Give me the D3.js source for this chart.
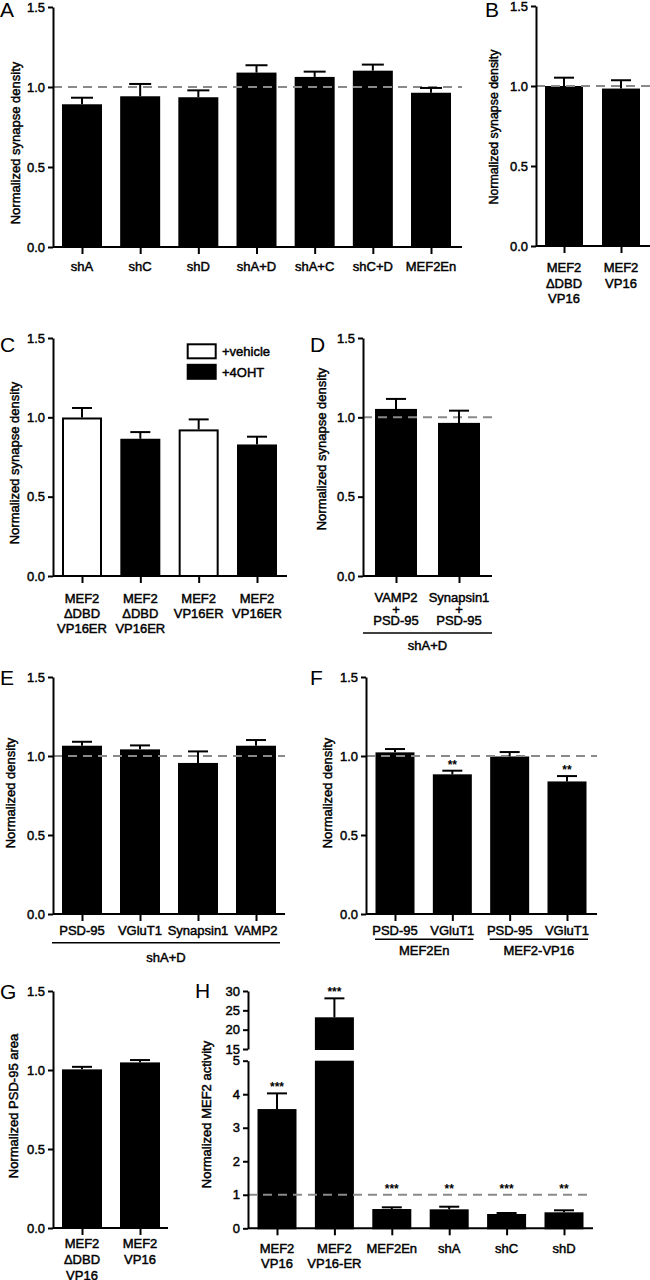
<!DOCTYPE html>
<html><head><meta charset="utf-8">
<script src="https://cdn.jsdelivr.net/npm/d3@7"></script>
<style>body{margin:0;background:#fff}svg{display:block}
text.t{stroke:#000;stroke-width:0.45px}
</style>
</head><body><svg id="c" width="650" height="1280"></svg>
<script>
// ---------- DATA ----------
const catsA = ["shA","shC","shD","shA+D","shA+C","shC+D","MEF2En"];
const valsA = [0.892,0.942,0.936,1.090,1.063,1.102,0.964];
const errA  = [0.041,0.077,0.043,0.046,0.033,0.038,0.030];

const catsB = ["MEF2\nΔDBD\nVP16","MEF2\nVP16"];
const valsB = [1.000,0.984];
const errB  = [0.052,0.052];

const catsC = ["MEF2\nΔDBD\nVP16ER","MEF2\nΔDBD\nVP16ER","MEF2\nVP16ER","MEF2\nVP16ER"];
const treatC = ["+vehicle","+4OHT","+vehicle","+4OHT"];
const valsC = [0.999,0.865,0.924,0.829];
const errC  = [0.060,0.042,0.063,0.049];
const legendC = ["+vehicle","+4OHT"];

const catsD = ["VAMP2\n+\nPSD-95","Synapsin1\n+\nPSD-95"];
const valsD = [1.053,0.965];
const errD  = [0.063,0.077];
const groupD = "shA+D";

const catsE = ["PSD-95","VGluT1","Synapsin1","VAMP2"];
const valsE = [1.065,1.042,0.956,1.065];
const errE  = [0.025,0.025,0.073,0.036];
const groupE = "shA+D";

const catsF = ["PSD-95","VGluT1","PSD-95","VGluT1"];
const valsF = [1.023,0.884,0.997,0.839];
const errF  = [0.021,0.023,0.028,0.034];
const starsF = ["","**","","**"];
const groupsF = [{label:"MEF2En", from:0, to:1},{label:"MEF2-VP16", from:2, to:3}];

const catsG = ["MEF2\nΔDBD\nVP16","MEF2\nVP16"];
const valsG = [1.004,1.048];
const errG  = [0.016,0.015];

const catsH = ["MEF2\nVP16","MEF2\nVP16-ER","MEF2En","shA","shC","shD"];
const valsH = [3.557,23.2,0.575,0.566,0.427,0.477];
const errH  = [0.468,4.9,0.051,0.078,0.029,0.060];
const starsH = ["***","***","***","**","***","**"];

const ticks15 = [0,0.5,1,1.5];
const ticksHlo = [0,1,2,3,4,5];
const ticksHhi = [15,20,25,30];

// ---------- DRAWING ----------
const FONT = '"Liberation Sans", Arial, Helvetica, sans-serif';
const svg = d3.select("#c").attr("font-family", FONT);

function styleAxis(g){
  g.attr("font-family", FONT).attr("font-size", 13);
  g.selectAll("path,line").attr("stroke","#000").attr("stroke-width",2);
  g.selectAll("text").attr("fill","#000").attr("class","t");
}

function letter(t,x,y){
  svg.append("text").attr("x",x).attr("y",y).attr("font-size",21).attr("fill","#000").text(t);
}

function yTitle(t,x,y,fs){
  svg.append("text").attr("class","t").attr("transform",`translate(${x},${y}) rotate(-90)`)
    .attr("text-anchor","middle").attr("dy","0.35em").attr("font-size",fs||13).attr("fill","#000").text(t);
}

function plainText(t,x,y){
  return svg.append("text").attr("class","t").attr("x",x).attr("y",y).attr("text-anchor","middle")
    .attr("font-size",13).attr("fill","#000").text(t);
}

function catLabels(g, x, cats, labY, lineH){
  const lab = g.append("g").attr("font-size",13).attr("text-anchor","middle").attr("fill","#000");
  cats.forEach((c,i)=>{
    const t = lab.append("text").attr("class","t").attr("y",labY);
    c.split("\n").forEach((line,j)=> t.append("tspan").attr("x",x(i)).attr("dy", j? lineH : 0).text(line));
  });
}

function drawPanel(p){
  const g = svg.append("g");
  const n = p.cats.length;
  const y = d3.scaleLinear().domain([0,1.5]).range([p.yBot,p.yTop]);
  const x = d3.scalePoint().domain(d3.range(n)).range([p.c0,p.c1]);
  const bw = p.bw;
  g.selectAll("rect.bar").data(p.vals).join("rect")
    .attr("x",(d,i)=>x(i)-bw/2+1).attr("width",bw-2)
    .attr("y",d=>y(d)+1).attr("height",d=>y(0)-y(d)-1)
    .attr("fill",(d,i)=> p.fills ? p.fills[i] : "#000")
    .attr("stroke","#000").attr("stroke-width",2);
  if (p.dashed){
    g.append("line").attr("x1",p.ax).attr("x2",p.xEnd).attr("y1",y(1)).attr("y2",y(1))
      .attr("stroke","#8a8a8a").attr("stroke-width",2).attr("stroke-dasharray","9,6");
  }
  const cw = p.cw || 20;
  p.vals.forEach((v,i)=>{
    const top = y(v + p.errs[i]);
    g.append("line").attr("x1",x(i)).attr("x2",x(i)).attr("y1",y(v)).attr("y2",top).attr("stroke","#000").attr("stroke-width",2);
    g.append("line").attr("x1",x(i)-cw/2).attr("x2",x(i)+cw/2).attr("y1",top).attr("y2",top).attr("stroke","#000").attr("stroke-width",2);
    if (p.stars && p.stars[i]) {
      g.append("text").attr("x",x(i)).attr("y",top-2).attr("text-anchor","middle")
        .attr("font-size",12).attr("font-weight","bold").attr("fill","#000").text(p.stars[i]);
    }
  });
  const gy = g.append("g").attr("transform",`translate(${p.ax},0)`)
    .call(d3.axisLeft(y).tickValues(ticks15).tickFormat(d3.format(".1f")).tickSize(5).tickSizeOuter(0));
  styleAxis(gy);
  const gx = g.append("g").attr("transform",`translate(0,${p.yBot})`)
    .call(d3.axisBottom(x).tickSize(7).tickSizeOuter(0).tickFormat(""));
  gx.select(".domain").attr("d",`M${p.ax},0H${p.xEnd}`);
  styleAxis(gx);
  catLabels(g, x, p.cats, p.labY, p.lineH || 15);
  yTitle(p.title, p.tx, p.ty, p.tfs);
  letter(p.letter, p.lx, p.ly);
  return {g,x,y};
}

// A
drawPanel({cats:catsA, vals:valsA, errs:errA, ax:53, xEnd:462, yTop:7, yBot:247, c0:82, c1:431, bw:40, dashed:true,
  labY:271, title:"Normalized synapse density", tx:15, ty:143, letter:"A", lx:0, ly:17, cw:22});
// B
drawPanel({cats:catsB, vals:valsB, errs:errB, ax:536, xEnd:650, yTop:6, yBot:246, c0:564, c1:621, bw:38, dashed:true,
  labY:272, lineH:15.5, title:"Normalized synapse density", tx:494, ty:127, tfs:12.4, letter:"B", lx:485, ly:17});
// C
drawPanel({cats:catsC, vals:valsC, errs:errC, fills:treatC.map(t=>t==="+vehicle"?"#fff":"#000"),
  ax:53, xEnd:287, yTop:338, yBot:576, c0:82, c1:257, bw:40, dashed:false,
  labY:603, lineH:15, title:"Normalized synapse density", tx:14, ty:463, letter:"C", lx:0, ly:352});
const leg = svg.append("g");
legendC.forEach((t,i)=>{
  leg.append("rect").attr("x",187.7).attr("y",344.3 + i*20.5).attr("width",28).attr("height",14)
    .attr("fill", t==="+vehicle"?"#fff":"#000").attr("stroke","#000").attr("stroke-width",2);
  leg.append("text").attr("class","t").attr("x",222).attr("y",355.5 + i*21).attr("font-size",13).attr("fill","#000").text(t);
});
// D
drawPanel({cats:catsD, vals:valsD, errs:errD, ax:363, xEnd:492, yTop:338, yBot:576, c0:396, c1:459, bw:42, dashed:true,
  labY:602, lineH:11.5, title:"Normalized synapse density", tx:321.5, ty:449, letter:"D", lx:310, ly:352});
svg.append("line").attr("x1",363).attr("x2",492).attr("y1",633).attr("y2",633).attr("stroke","#000").attr("stroke-width",1.5);
plainText(groupD, 427.5, 650);
// E
drawPanel({cats:catsE, vals:valsE, errs:errE, ax:53, xEnd:285, yTop:677, yBot:914, c0:82, c1:256, bw:40, dashed:true,
  labY:935, title:"Normalized density", tx:10, ty:793, letter:"E", lx:0, ly:685});
svg.append("line").attr("x1",52).attr("x2",280).attr("y1",942.7).attr("y2",942.7).attr("stroke","#000").attr("stroke-width",1.5);
plainText(groupE, 166, 962);
// F
const pf = drawPanel({cats:catsF, vals:valsF, errs:errF, stars:starsF, ax:366, xEnd:597, yTop:677, yBot:914, c0:395, c1:567, bw:39, dashed:true,
  labY:935, title:"Normalized density", tx:327.5, ty:793, letter:"F", lx:310, ly:685});
groupsF.forEach(gr=>{
  const a = pf.x(gr.from)-20, b = pf.x(gr.to)+21;
  svg.append("line").attr("x1",a).attr("x2",b).attr("y1",939.3).attr("y2",939.3).attr("stroke","#000").attr("stroke-width",1.5);
  plainText(gr.label, (a+b)/2, 955);
});
// G
drawPanel({cats:catsG, vals:valsG, errs:errG, ax:53, xEnd:168, yTop:991, yBot:1228, c0:82, c1:140, bw:40, dashed:false,
  labY:1248, lineH:16, title:"Normalized PSD-95 area", tx:13, ty:1106, letter:"G", lx:0, ly:999});

// H (broken axis)
(function(){
  const g = svg.append("g");
  const ax = 248, xEnd = 593;
  const yLo = d3.scaleLinear().domain([0,5]).range([1228.3,1060.7]);
  const yHi = d3.scaleLinear().domain([15,30]).range([1049,991]);
  const yv = v => v<=5 ? yLo(v) : yHi(v);
  const x = d3.scalePoint().domain(d3.range(catsH.length)).range([277,564]);
  const bw = 39, cw = 20;
  valsH.forEach((v,i)=>{
    const lo = Math.min(v,5);
    g.append("rect").attr("x",x(i)-bw/2+1).attr("width",bw-2).attr("y",yLo(lo)+1).attr("height",yLo(0)-yLo(lo)-1)
      .attr("fill","#000").attr("stroke","#000").attr("stroke-width",2);
    if (v>5){
      g.append("rect").attr("x",x(i)-bw/2+1).attr("width",bw-2).attr("y",yHi(v)+1).attr("height",yHi(15)-yHi(v)-1)
        .attr("fill","#000").attr("stroke","#000").attr("stroke-width",2);
    }
  });
  g.append("line").attr("x1",ax).attr("x2",xEnd).attr("y1",yLo(1)).attr("y2",yLo(1))
    .attr("stroke","#8a8a8a").attr("stroke-width",2).attr("stroke-dasharray","9,6");
  valsH.forEach((v,i)=>{
    const top = yv(v+errH[i]);
    g.append("line").attr("x1",x(i)).attr("x2",x(i)).attr("y1",yv(v)).attr("y2",top).attr("stroke","#000").attr("stroke-width",2);
    g.append("line").attr("x1",x(i)-cw/2).attr("x2",x(i)+cw/2).attr("y1",top).attr("y2",top).attr("stroke","#000").attr("stroke-width",2);
    const sy = Math.min(top, yLo(1));
    g.append("text").attr("x",x(i)).attr("y",sy-2).attr("text-anchor","middle")
      .attr("font-size",12).attr("font-weight","bold").attr("fill","#000").text(starsH[i]);
  });
  const gy1 = g.append("g").attr("transform",`translate(${ax},0)`)
    .call(d3.axisLeft(yLo).tickValues(ticksHlo).tickFormat(d3.format("d")).tickSize(5).tickSizeOuter(0));
  styleAxis(gy1);
  const gy2 = g.append("g").attr("transform",`translate(${ax},0)`)
    .call(d3.axisLeft(yHi).tickValues(ticksHhi).tickFormat(d3.format("d")).tickSize(5).tickSizeOuter(0));
  styleAxis(gy2);
  const gx = g.append("g").attr("transform",`translate(0,${yLo(0)})`)
    .call(d3.axisBottom(x).tickSize(7).tickSizeOuter(0).tickFormat(""));
  gx.select(".domain").attr("d",`M${ax},0H${xEnd}`);
  styleAxis(gx);
  catLabels(g, x, catsH, 1253, 15);
  yTitle("Normalized MEF2 activity", 206.5, 1114.5);
  letter("H", 195, 998);
})();
</script></body></html>
